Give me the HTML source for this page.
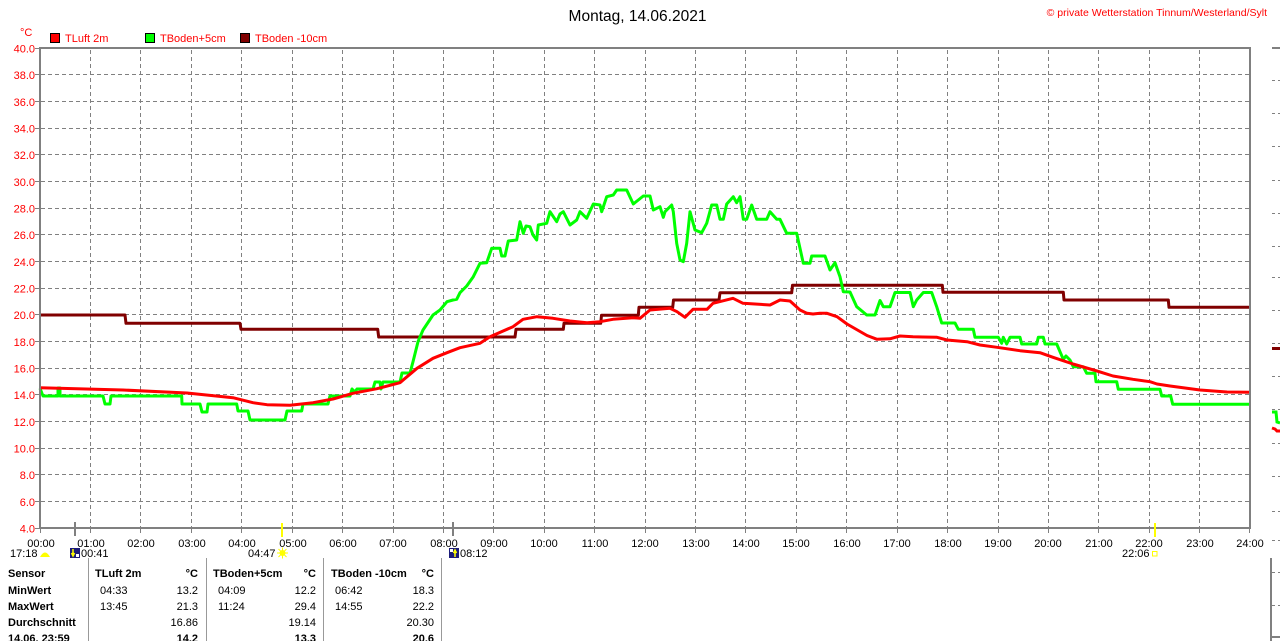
<!DOCTYPE html>
<html><head><meta charset="utf-8"><style>
html,body{margin:0;padding:0;background:#fff;width:1280px;height:641px;overflow:hidden}
svg{display:block}
text{font-family:"Liberation Sans",Arial,sans-serif}
</style></head><body>
<svg width="1280" height="641" viewBox="0 0 1280 641" xmlns="http://www.w3.org/2000/svg">
<rect width="1280" height="641" fill="#fff"/>
<!-- title -->
<text x="637.5" y="21" font-size="15.5" text-anchor="middle" fill="#000">Montag, 14.06.2021</text>
<text x="1267" y="16" font-size="10.5" text-anchor="end" fill="#f00">© private Wetterstation Tinnum/Westerland/Sylt</text>
<!-- legend -->
<text x="20" y="36" font-size="11" fill="#f00">°C</text>
<rect x="50.5" y="33.5" width="9" height="9" fill="#f00" stroke="#000"/>
<text x="65" y="42" font-size="11" fill="#f00">TLuft 2m</text>
<rect x="145.5" y="33.5" width="9" height="9" fill="#0f0" stroke="#000"/>
<text x="160" y="42" font-size="11" fill="#f00">TBoden+5cm</text>
<rect x="240.5" y="33.5" width="9" height="9" fill="#800000" stroke="#000"/>
<text x="255" y="42" font-size="11" fill="#f00">TBoden -10cm</text>

<!-- grid -->
<g stroke="#808080" stroke-width="1" stroke-dasharray="4,3" fill="none" shape-rendering="crispEdges">
<path d="M90.5 50V527M140.5 50V527M191.5 50V527M241.5 50V527M292.5 50V527M342.5 50V527M393.5 50V527M443.5 50V527M493.5 50V527M544.5 50V527M594.5 50V527M645.5 50V527M695.5 50V527M745.5 50V527M796.5 50V527M846.5 50V527M897.5 50V527M947.5 50V527M998.5 50V527M1048.5 50V527M1098.5 50V527M1149.5 50V527M1199.5 50V527"/>
<path d="M41 74.5H1249M41 101.5H1249M41 128.5H1249M41 154.5H1249M41 181.5H1249M41 208.5H1249M41 234.5H1249M41 261.5H1249M41 288.5H1249M41 314.5H1249M41 341.5H1249M41 368.5H1249M41 394.5H1249M41 421.5H1249M41 448.5H1249M41 474.5H1249M41 501.5H1249"/>
</g>
<!-- y ticks -->
<g stroke="#808080" stroke-width="1" shape-rendering="crispEdges">
<path d="M35 48.5H40M35 74.5H40M35 101.5H40M35 128.5H40M35 154.5H40M35 181.5H40M35 208.5H40M35 234.5H40M35 261.5H40M35 288.5H40M35 314.5H40M35 341.5H40M35 368.5H40M35 394.5H40M35 421.5H40M35 448.5H40M35 474.5H40M35 501.5H40M35 528.5H40"/>
<path d="M40.5 528V533M90.5 528V533M140.5 528V533M191.5 528V533M241.5 528V533M292.5 528V533M342.5 528V533M393.5 528V533M443.5 528V533M493.5 528V533M544.5 528V533M594.5 528V533M645.5 528V533M695.5 528V533M745.5 528V533M796.5 528V533M846.5 528V533M897.5 528V533M947.5 528V533M998.5 528V533M1048.5 528V533M1098.5 528V533M1149.5 528V533M1199.5 528V533M1249.5 528V533"/>
</g>
<!-- y labels -->
<g font-size="11" fill="#f00" text-anchor="end">
<text x="35" y="52.5">40.0</text><text x="35" y="79">38.0</text><text x="35" y="105.8">36.0</text><text x="35" y="132.5">34.0</text><text x="35" y="159">32.0</text><text x="35" y="185.8">30.0</text><text x="35" y="212.5">28.0</text><text x="35" y="239">26.0</text><text x="35" y="265.8">24.0</text><text x="35" y="292.5">22.0</text><text x="35" y="319">20.0</text><text x="35" y="345.8">18.0</text><text x="35" y="372.5">16.0</text><text x="35" y="399">14.0</text><text x="35" y="425.8">12.0</text><text x="35" y="452.5">10.0</text><text x="35" y="479">8.0</text><text x="35" y="505.8">6.0</text><text x="35" y="532.5">4.0</text>
</g>

<!-- series -->
<g fill="none" stroke-width="3" stroke-linejoin="round">
<polyline stroke="#800000" points="40,315 125,315 126,323.3 240,323.3 241,329.3 377.7,329.3 378.7,337 515,337 516,329.3 563.3,329.3 564,323.3 600.7,323.3 601.5,315.3 638.3,315.3 639,307.3 672.7,307.3 673.5,300 719,300 720,292.7 791.7,292.7 792.5,285.3 942.3,285.3 943,292.3 1063.3,292.3 1064,300 1168.3,300 1169,307.3 1250,307.3"/>
<polyline stroke="#00ff00" points="40,388.3 43,396 58,396 58,388 60,388 60,396 103,396 105,404 110,404 111,396 181.7,396 182,404 200,404 202,412 207,412 208,404 236.7,404 238,411 248,411 250,420 285,420 287,411 301.7,411 303,404 328,404 330,396 350,396 352,389 355,392 357,389 373,389 375,382 380,382 381,389 383,382 400,382 402,373 410,373 413,361.7 418,341.7 423,330 433,315 440,310 447,301.7 453,300 456.7,299.3 460,292.7 466.7,286 473.3,276.7 480,263.3 486.7,262.7 491.7,248.3 500,248.3 501.7,256 505,256 508.3,241 516.7,240 520,221.7 523.3,233.3 526,226 530,226.7 533,235 536.7,240 538.3,225 546.7,223.3 550,211.7 556.7,221.7 560,214 563.3,211.7 570,225 576.7,220 580,211.7 586.7,218.3 593.3,204 600,205 601.7,211.7 606.7,196.7 613.3,195 616.7,190 626.7,190 633.3,204 643.3,196 650,196 653.3,210 660,206.7 663.3,217.3 665,211.7 671.7,205 673.3,211.7 676.7,243.3 680,260 683.3,261.7 686.7,243.3 690,211.7 695,230 701.7,232.7 706.7,223.3 711.7,205 716.7,205 720,219.3 723.3,219.3 726.7,204 733.3,196.7 736.7,202.7 740,196.7 743.3,219.3 746.7,219.3 751.7,205 756.7,219.3 766.7,219.3 770,211.7 776.7,219.3 780,219.3 786.7,233.3 796.7,233.3 803.3,263.3 810,263.3 811.7,256 825,256 830,270 835,262.7 840,276.7 843.3,291.7 850,292 856.7,306.7 866.7,315 875,315 880,300.5 883.3,306.7 890,306.7 895,292.5 910,292.5 913.3,306.7 916.7,300 923.3,292.5 931.7,292.5 936.7,306.7 941.7,323 955,323 958.3,329.3 973.3,329.3 975,337.3 998.3,337.3 1001.7,343.3 1003.3,337.3 1006.7,344 1010,337.3 1020,337.3 1021.7,344 1036.7,344 1038.3,337.3 1043.3,337.3 1045,344 1056.7,344 1060,351.7 1063.3,359.3 1066,356 1070,360 1073.3,366.7 1083.3,366.7 1086.7,373.3 1095,373.3 1096,381.7 1116.7,381.7 1118.3,389.3 1160,389.3 1161.7,396 1170.7,396 1172.7,404.3 1250,404.3"/>
<polyline stroke="#ff0000" points="40,387.7 123,390 187,393 233,397.7 253,402.7 267,404.7 290,405.3 313,402.7 333,399 353,393.3 377,388.7 400,382.7 417,368.3 433,358.3 447,352.7 460,347.7 480,343.3 490,336.7 513,326.7 523,319.3 537,316.7 553,318.3 570,321 587,322.7 600,321.7 613,319.3 633,317.7 640,318.3 650,310 670,308.3 677,311.7 685,317.3 693,309.3 707,309.3 713,303.3 733,298.3 743,303.3 770,305 780,300 790,301 800,310 807,313.3 813,314 820,313.3 827,313.3 837,316.7 847,324 867,335.5 877,339.3 890,338.8 900,336 913,336.7 923,337 937,337.3 947,340 967,341.7 980,345 997,347.3 1020,350.7 1040,352.7 1053,357.3 1073,364 1097,371 1113,376 1133,379.3 1150,381.7 1157,384 1170,386 1200,390 1227,392 1250,392.3"/>
</g>

<!-- frame -->
<g stroke="#808080" stroke-width="2" fill="none" shape-rendering="crispEdges">
<path d="M40 48H1251M1250 48V529M40 47V529M39 528H1251"/>
</g>

<!-- event ticks -->
<rect x="74" y="522" width="2" height="14" fill="#808080"/>
<rect x="452" y="522" width="2" height="14" fill="#808080"/>
<rect x="281" y="523" width="2" height="14" fill="#ffff00"/>
<rect x="1154" y="523" width="2" height="14" fill="#ffff00"/>

<!-- x labels -->
<g font-size="11" fill="#000" text-anchor="middle">
<text x="41" y="547">00:00</text><text x="91" y="547">01:00</text><text x="141" y="547">02:00</text><text x="192" y="547">03:00</text><text x="242" y="547">04:00</text><text x="293" y="547">05:00</text><text x="343" y="547">06:00</text><text x="393" y="547">07:00</text><text x="444" y="547">08:00</text><text x="494" y="547">09:00</text><text x="544" y="547">10:00</text><text x="595" y="547">11:00</text><text x="645" y="547">12:00</text><text x="696" y="547">13:00</text><text x="746" y="547">14:00</text><text x="796" y="547">15:00</text><text x="847" y="547">16:00</text><text x="897" y="547">17:00</text><text x="948" y="547">18:00</text><text x="998" y="547">19:00</text><text x="1048" y="547">20:00</text><text x="1099" y="547">21:00</text><text x="1149" y="547">22:00</text><text x="1200" y="547">23:00</text><text x="1250" y="547">24:00</text>
</g>
<!-- sun/moon row -->
<g font-size="11" fill="#000">
<text x="10" y="557">17:18</text>
<text x="81" y="557">00:41</text>
<text x="248" y="557">04:47</text>
<text x="460" y="557">08:12</text>
<text x="1122" y="557">22:06</text>
</g>
<path d="M40 557 Q45 548 50 557 Z" fill="#ffff00"/>
<rect x="70" y="548" width="10" height="10" fill="#1c1c7a"/>
<path d="M73 549V554M71.5 553L73 556L74.5 553" stroke="#ffff00" stroke-width="1.5" fill="none"/>
<rect x="76" y="554" width="3" height="3" fill="#fff"/>
<circle cx="282.5" cy="553" r="3" fill="#ffff00"/>
<path d="M282.5 547.5V558.5M277 553H288M278.5 549L286.5 557M286.5 549L278.5 557" stroke="#ffff00" stroke-width="1"/>
<rect x="449" y="548" width="10" height="10" fill="#1c1c7a"/>
<path d="M455 557V552M453.5 553L455 550L456.5 553" stroke="#ffff00" stroke-width="1.5" fill="none"/>
<rect x="450" y="549" width="3" height="3" fill="#fff"/>
<rect x="1152.5" y="551.5" width="4.5" height="4.5" fill="none" stroke="#ffff00" stroke-width="1"/>

<!-- table -->
<g stroke="#999" stroke-width="1" shape-rendering="crispEdges">
<path d="M88.5 558V641M206.5 558V641M323.5 558V641M441.5 558V641"/>
</g>
<g font-size="11" fill="#000">
<g font-weight="bold">
<text x="8" y="577">Sensor</text>
<text x="8" y="594">MinWert</text>
<text x="8" y="610">MaxWert</text>
<text x="8" y="626">Durchschnitt</text>
<text x="8" y="642">14.06. 23:59</text>
<text x="95" y="577">TLuft 2m</text>
<text x="213" y="577">TBoden+5cm</text>
<text x="331" y="577">TBoden -10cm</text>
<text x="198" y="577" text-anchor="end">°C</text>
<text x="316" y="577" text-anchor="end">°C</text>
<text x="434" y="577" text-anchor="end">°C</text>
<text x="198" y="642" text-anchor="end">14.2</text>
<text x="316" y="642" text-anchor="end">13.3</text>
<text x="434" y="642" text-anchor="end">20.6</text>
</g>
<text x="100" y="594">04:33</text><text x="198" y="594" text-anchor="end">13.2</text>
<text x="218" y="594">04:09</text><text x="316" y="594" text-anchor="end">12.2</text>
<text x="335" y="594">06:42</text><text x="434" y="594" text-anchor="end">18.3</text>
<text x="100" y="610">13:45</text><text x="198" y="610" text-anchor="end">21.3</text>
<text x="218" y="610">11:24</text><text x="316" y="610" text-anchor="end">29.4</text>
<text x="335" y="610">14:55</text><text x="434" y="610" text-anchor="end">22.2</text>
<text x="198" y="626" text-anchor="end">16.86</text>
<text x="316" y="626" text-anchor="end">19.14</text>
<text x="434" y="626" text-anchor="end">20.30</text>
</g>

<!-- partial chart at right edge -->
<g shape-rendering="crispEdges">
<rect x="1272" y="47" width="8" height="2" fill="#808080"/>
<g stroke="#808080" stroke-width="1">
<path d="M1272 80.5H1275M1278 80.5H1280M1272 113.5H1275M1278 113.5H1280M1272 146.5H1275M1278 146.5H1280M1272 180.5H1275M1278 180.5H1280M1272 213.5H1275M1278 213.5H1280M1272 246.5H1275M1278 246.5H1280M1272 277.5H1275M1278 277.5H1280M1272 310.5H1275M1278 310.5H1280M1272 343.5H1275M1278 343.5H1280M1272 376.5H1275M1278 376.5H1280M1272 409.5H1275M1278 409.5H1280M1272 443.5H1275M1278 443.5H1280M1272 476.5H1275M1278 476.5H1280M1272 511.5H1275M1278 511.5H1280M1272 540.5H1275M1278 540.5H1280M1272 572.5H1275M1278 572.5H1280M1272 605.5H1275M1278 605.5H1280"/>
</g>
<rect x="1272" y="347" width="8" height="3" fill="#800000"/>
<rect x="1270" y="558" width="2" height="83" fill="#808080"/>
<rect x="1270" y="636" width="10" height="2" fill="#808080"/>
</g>
<polyline points="1272,412 1276,412 1277,422 1280,423" fill="none" stroke="#00ff00" stroke-width="3"/>
<polyline points="1272,428 1275,429 1277,431 1280,431" fill="none" stroke="#ff0000" stroke-width="3"/>
</svg>
</body></html>
